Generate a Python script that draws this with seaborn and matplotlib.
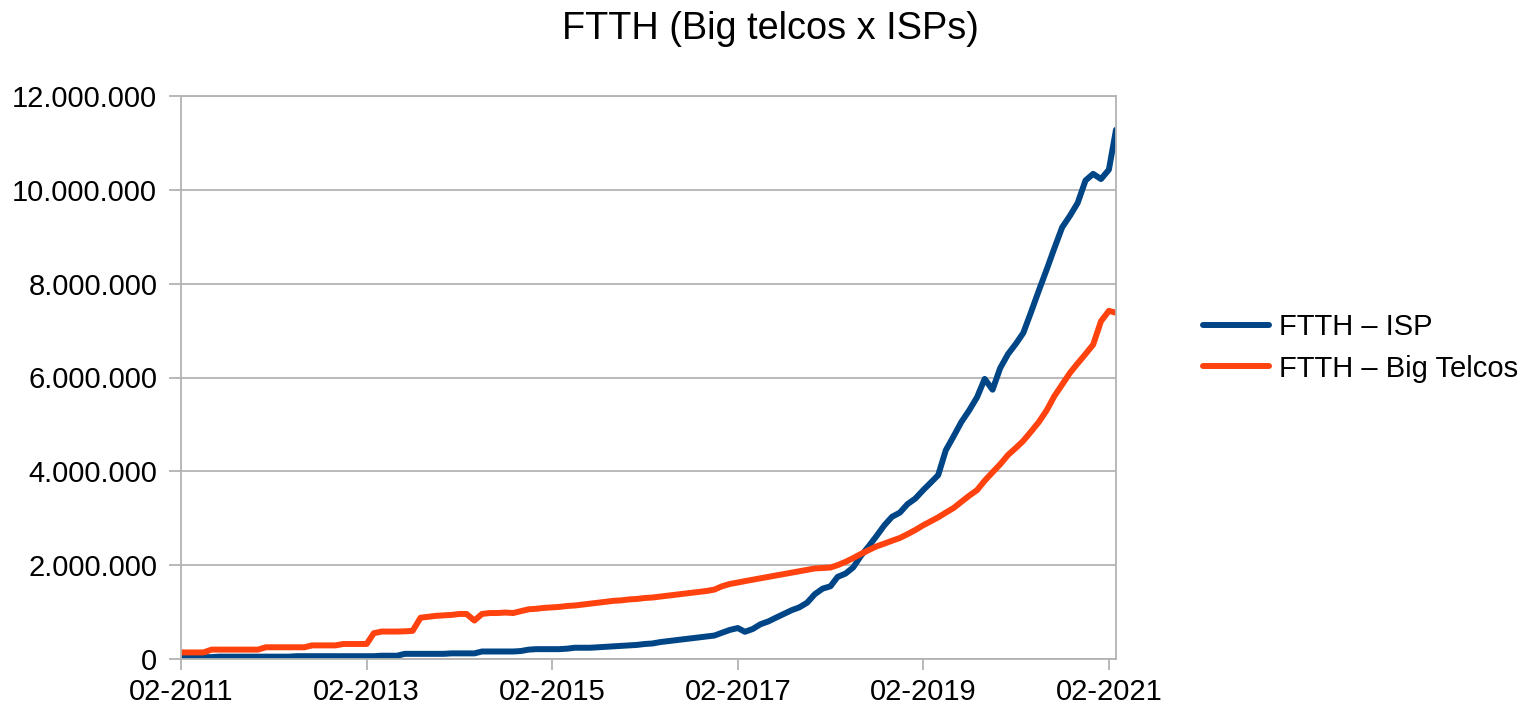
import numpy as np
import pandas as pd
import matplotlib
matplotlib.use("Agg")
import matplotlib.pyplot as plt
import matplotlib.dates as mdates
from matplotlib.ticker import FuncFormatter
import seaborn as sns

# Monthly data, 02-2011 .. 03-2021 (millions of accesses)
start_month = "2011-02-01"
isp_millions = [
    0.04, 0.04, 0.04, 0.04, 0.04, 0.05, 0.05, 0.05, 0.05, 0.05, 0.05, 0.05,
    0.05, 0.05, 0.05, 0.06, 0.06, 0.06, 0.06, 0.06, 0.06, 0.06, 0.06, 0.06,
    0.06, 0.06, 0.07, 0.07, 0.07, 0.11, 0.11, 0.11, 0.11, 0.11, 0.11, 0.12,
    0.12, 0.12, 0.12, 0.16, 0.16, 0.16, 0.16, 0.16, 0.17, 0.20, 0.21, 0.21,
    0.21, 0.21, 0.22, 0.24, 0.24, 0.24, 0.25, 0.26, 0.27, 0.28, 0.29, 0.30,
    0.32, 0.33, 0.36, 0.38, 0.40, 0.42, 0.44, 0.46, 0.48, 0.50, 0.56, 0.62,
    0.66, 0.58, 0.64, 0.74, 0.80, 0.88, 0.96, 1.04, 1.10, 1.20, 1.38, 1.50,
    1.55, 1.75, 1.82, 1.95, 2.20, 2.40, 2.62, 2.85, 3.03, 3.12, 3.30, 3.42,
    3.60, 3.75, 3.92, 4.45, 4.75, 5.05, 5.30, 5.58, 5.97, 5.74, 6.20, 6.50,
    6.72, 6.95, 7.40, 7.85, 8.30, 8.75, 9.20, 9.45, 9.72, 10.20, 10.34, 10.23,
    10.43, 11.28,
]
big_telcos_millions = [
    0.14, 0.14, 0.14, 0.14, 0.20, 0.20, 0.20, 0.20, 0.20, 0.20, 0.20, 0.25,
    0.25, 0.25, 0.25, 0.25, 0.25, 0.29, 0.29, 0.29, 0.29, 0.32, 0.32, 0.32,
    0.32, 0.55, 0.585, 0.585, 0.585, 0.59, 0.60, 0.88, 0.90, 0.92, 0.93, 0.94,
    0.96, 0.96, 0.82, 0.96, 0.98, 0.98, 0.99, 0.98, 1.02, 1.06, 1.07, 1.09,
    1.10, 1.11, 1.13, 1.14, 1.16, 1.18, 1.20, 1.22, 1.24, 1.25, 1.27, 1.28,
    1.30, 1.31, 1.33, 1.35, 1.37, 1.39, 1.41, 1.43, 1.45, 1.48, 1.55, 1.60,
    1.63, 1.66, 1.69, 1.72, 1.75, 1.78, 1.81, 1.84, 1.87, 1.90, 1.93, 1.94,
    1.95, 2.00, 2.07, 2.15, 2.24, 2.32, 2.40, 2.46, 2.52, 2.58, 2.66, 2.75,
    2.85, 2.93, 3.02, 3.12, 3.22, 3.35, 3.48, 3.60, 3.80, 3.98, 4.15, 4.35,
    4.50, 4.65, 4.85, 5.05, 5.30, 5.60, 5.85, 6.10, 6.30, 6.50, 6.70, 7.20,
    7.42, 7.38,
]
series_names = ["FTTH \u2013 ISP", "FTTH \u2013 Big Telcos"]
series_colors = ["#004586", "#ff420e"]
title_text = "FTTH (Big telcos x ISPs)"
y_ticks = [0, 2_000_000, 4_000_000, 6_000_000, 8_000_000, 10_000_000, 12_000_000]
x_tick_dates = ["2011-02-01", "2013-02-01", "2015-02-01", "2017-02-01",
                "2019-02-01", "2021-02-01"]

dates = pd.date_range(start_month, periods=len(isp_millions), freq="MS")
df = pd.concat([
    pd.DataFrame({"date": dates, "value": np.array(isp_millions) * 1e6,
                  "series": series_names[0]}),
    pd.DataFrame({"date": dates, "value": np.array(big_telcos_millions) * 1e6,
                  "series": series_names[1]}),
])

sns.set_theme(style="white")
plt.rcParams["font.family"] = ["Liberation Sans", "DejaVu Sans"]

fig = plt.figure(figsize=(15.29, 7.07), dpi=100)
ax = fig.add_axes([181 / 1529, 1 - 659 / 707, (1116 - 181) / 1529, (659 - 96) / 707])

sns.lineplot(data=df, x="date", y="value", hue="series",
             palette=dict(zip(series_names, series_colors)),
             linewidth=4.3, ax=ax, legend=True)

ax.set_xlim(dates[0], dates[-1])
ax.set_ylim(0, 12_000_000)
ax.set_yticks(y_ticks)
ax.yaxis.set_major_formatter(FuncFormatter(
    lambda v, p: "0" if v == 0 else f"{int(v):,}".replace(",", ".")))
ax.set_xticks(pd.to_datetime(x_tick_dates))
ax.xaxis.set_major_formatter(mdates.DateFormatter("%m-%Y"))
ax.set_xlabel("")
ax.set_ylabel("")

grid_c = "#b3b3b3"
ax.yaxis.grid(True, color=grid_c, linewidth=1.3)
ax.xaxis.grid(False)
for s in ax.spines.values():
    s.set_color(grid_c)
    s.set_linewidth(1.3)
ax.tick_params(axis="y", length=8.6, width=1.3, color=grid_c, pad=8.5,
               labelsize=21, labelcolor="#000000", left=True)
ax.tick_params(axis="x", length=8, width=1.3, color=grid_c, pad=6,
               labelsize=21, labelcolor="#000000", bottom=True)

fig.suptitle(title_text, x=0.504, y=0.985, fontsize=27.3, color="#000000")

handles, labels = ax.get_legend_handles_labels()
ax.get_legend().remove()
fig.legend(handles, labels, loc="center left",
           bbox_to_anchor=(1203 / 1529, 1 - 348 / 707), frameon=False,
           fontsize=21, handlelength=2.25, handletextpad=0.35,
           labelspacing=0.45, borderpad=0, borderaxespad=0,
           labelcolor="#000000")

fig.savefig("out.png", dpi=100, facecolor="white")
